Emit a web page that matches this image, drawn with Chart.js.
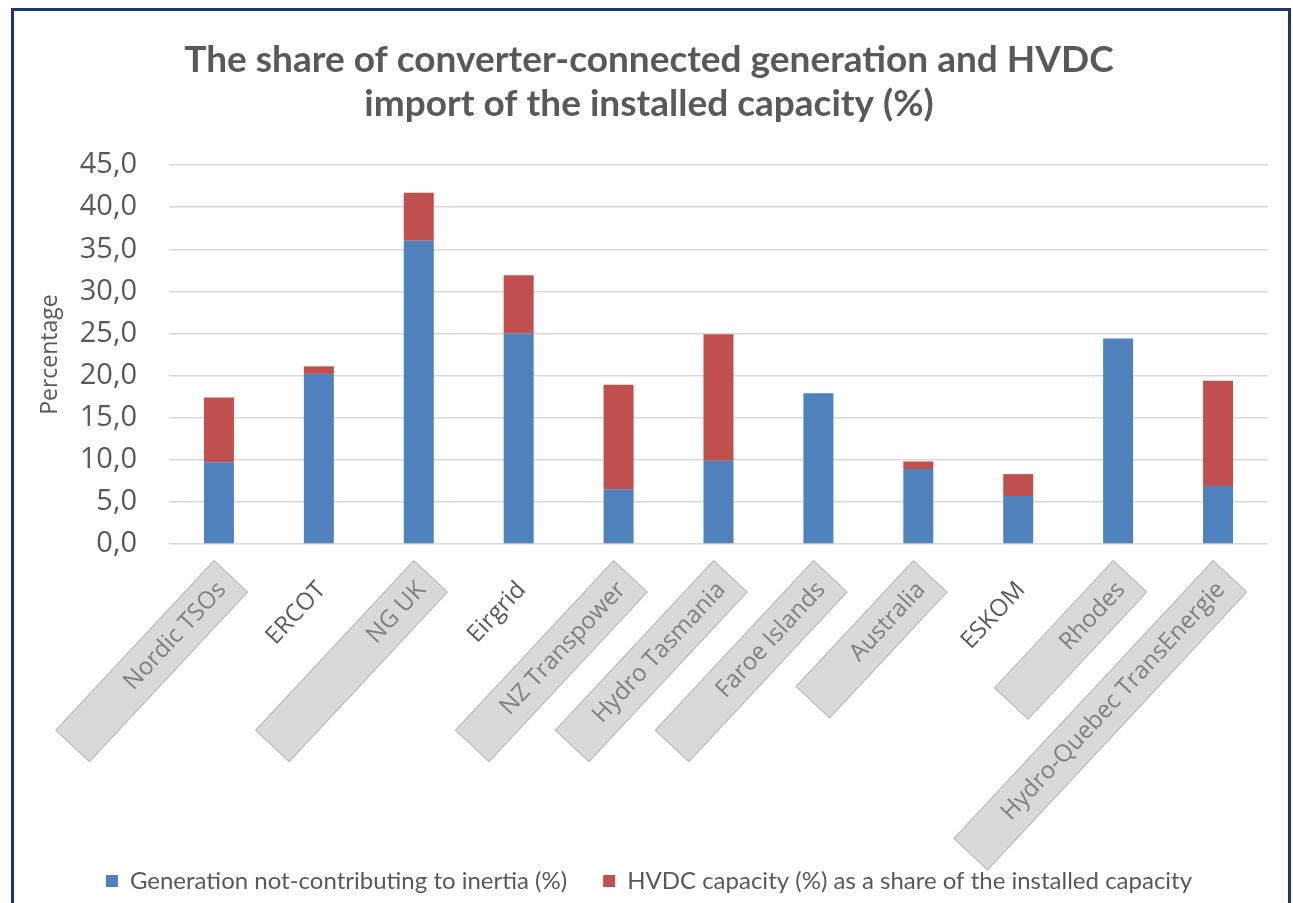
<!DOCTYPE html>
<html>
<head>
<meta charset="utf-8">
<title>Converter-connected generation and HVDC import</title>
<script src="https://cdn.jsdelivr.net/npm/chart.js@4.4.1/dist/chart.umd.min.js"></script>
<style>
    html, body { margin: 0; padding: 0; background: #fff; }
    #wrap { position: relative; width: 1293px; height: 903px; overflow: hidden; }
    #frame {
        position: absolute; left: 11px; top: 8px; width: 1274px; height: 900px;
        border: 3px solid #1c3574; border-bottom: none; pointer-events: none;
    }
    canvas { position: absolute; left: 0; top: 0; }
</style>
</head>
<body>
<div id="wrap">
    <canvas id="chart" width="1293" height="903"></canvas>
    <div id="frame"></div>
</div>
<script>
// ── data ──────────────────────────────────────────
const categories = [
    'Nordic TSOs', 'ERCOT', 'NG UK', 'Eirgrid', 'NZ Transpower', 'Hydro Tasmania',
    'Faroe Islands', 'Australia', 'ESKOM', 'Rhodes', 'Hydro-Quebec TransEnergie'
];
const generationNotInertia = [9.7, 20.2, 36.0, 25.0, 6.5, 9.9, 17.9, 8.9, 5.7, 24.4, 6.9];
const hvdcShare            = [7.7,  0.9,  5.7,  6.9, 12.4, 15.0, 0,   0.9, 2.6, 0,   12.5];
const seriesNames = [
    'Generation not-contributing to inertia (%)',
    'HVDC capacity (%) as a share of the installed capacity'
];
const yTicks = [0, 5, 10, 15, 20, 25, 30, 35, 40, 45];
const boxedLabels = ['Nordic TSOs', 'NG UK', 'NZ Transpower', 'Hydro Tasmania',
    'Faroe Islands', 'Australia', 'Rhodes', 'Hydro-Quebec TransEnergie'];

// ── style ─────────────────────────────────────────
const TEXT = '#595959';
// grey label boxes: length along the label, thickness, overhang past the text end
const BOX_LEN = {
    'Nordic TSOs': 232, 'NG UK': 232, 'NZ Transpower': 232, 'Hydro Tasmania': 232,
    'Faroe Islands': 232, 'Australia': 172, 'Rhodes': 174, 'Hydro-Quebec TransEnergie': 380
};
const BOX_THICK = 46;
const BOX_OVER = 13;

const fmt = v => v.toFixed(1).replace('.', ',');

// draws the grey boxes behind some category labels (before the scales paint text)
const labelBoxes = {
    id: 'labelBoxes',
    beforeDraw(chart) {
        const scale = chart.scales.x;
        const ctx = chart.ctx;
        scale.getLabelItems().forEach((item, i) => {
            const len = BOX_LEN[categories[i]];
            if (!len) return;
            const o = item.options;
            const lh = item.font.lineHeight;
            let mid = item.textOffset;
            if (o.textBaseline === 'top') mid += lh / 2;
            else if (o.textBaseline === 'bottom') mid -= lh / 2;
            ctx.save();
            ctx.translate(o.translation[0], o.translation[1]);
            ctx.rotate(o.rotation);
            ctx.fillStyle = '#d9d9d9';
            ctx.strokeStyle = '#bdbdbd';
            ctx.lineWidth = 1.2;
            ctx.fillRect(BOX_OVER - len, mid - BOX_THICK / 2, len, BOX_THICK);
            ctx.strokeRect(BOX_OVER - len, mid - BOX_THICK / 2, len, BOX_THICK);
            ctx.restore();
        });
    }
};

new Chart(document.getElementById('chart').getContext('2d'), {
    type: 'bar',
    data: {
        labels: categories,
        datasets: [
            { label: seriesNames[0], data: generationNotInertia, backgroundColor: '#4f81bd' },
            { label: seriesNames[1], data: hvdcShare,            backgroundColor: '#c0504d' }
        ]
    },
    plugins: [labelBoxes],
    options: {
        responsive: false, animation: false,
        layout: { padding: { left: 30, right: 25, top: 0, bottom: 0 } },
        datasets: { bar: { categoryPercentage: 1, barPercentage: 0.3 } },
        plugins: {
            title: {
                display: true,
                text: ['The share of converter-connected generation and HVDC',
                       'import of the installed capacity (%)'],
                color: TEXT,
                font: { family: 'Lato', size: 37, weight: 'bold', lineHeight: 1.19 },
                padding: { top: 38, bottom: 39 }
            },
            legend: {
                position: 'bottom',
                labels: {
                    color: TEXT, boxWidth: 12, boxHeight: 12, padding: 36,
                    font: { family: 'Lato', size: 24 }
                }
            },
            tooltip: { enabled: false }
        },
        scales: {
            x: {
                stacked: true,
                grid: { display: false },
                border: { display: false },
                ticks: {
                    color: ctx => boxedLabels.includes(categories[ctx.index]) ? '#808080' : TEXT,
                    font: { family: 'Open Sans', size: 24 },
                    minRotation: 47, maxRotation: 47, padding: 24, labelOffset: 3,
                    autoSkip: false
                },
                afterFit: scale => { scale.height = 289; }
            },
            y: {
                stacked: true,
                min: 0, max: 45,
                afterBuildTicks: scale => { scale.ticks = yTicks.map(v => ({ value: v })); },
                afterFit: scale => { scale.width = 139; },
                grid: { color: '#d9d9d9', lineWidth: 1.5, drawTicks: false },
                border: { display: false },
                ticks: {
                    color: TEXT, padding: 32,
                    font: { family: 'Open Sans', size: 29 },
                    callback: v => fmt(v)
                },
                title: {
                    display: true, text: 'Percentage', color: TEXT,
                    font: { family: 'Open Sans', size: 23 },
                    padding: { top: 7, bottom: 0 }
                }
            }
        }
    }
});
</script>
</body>
</html>
